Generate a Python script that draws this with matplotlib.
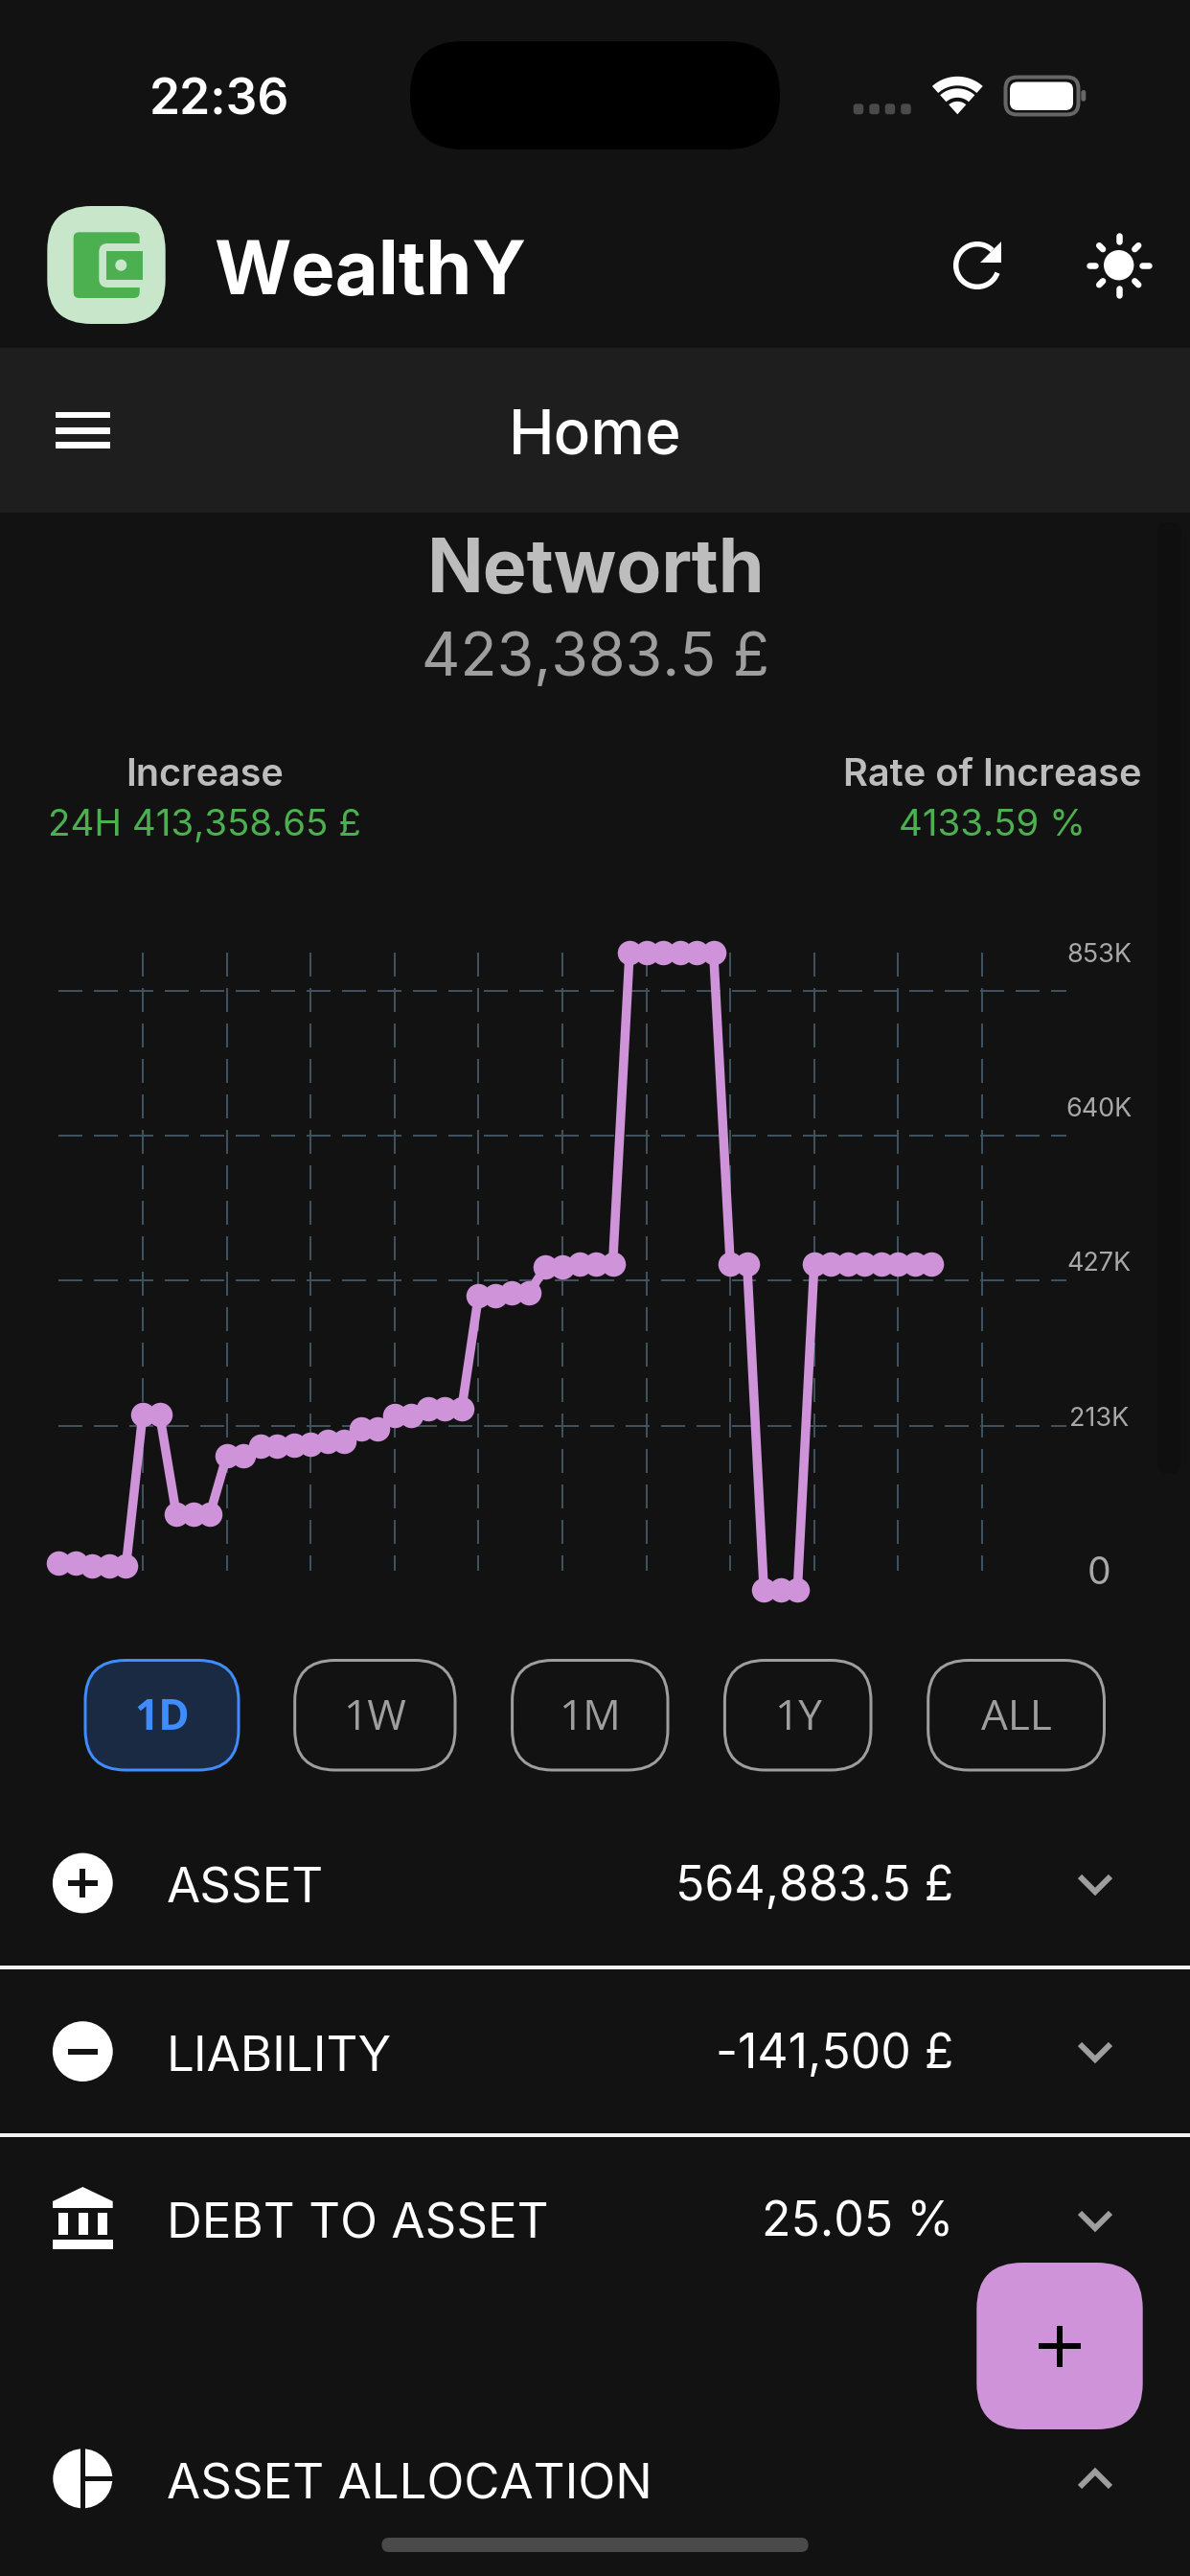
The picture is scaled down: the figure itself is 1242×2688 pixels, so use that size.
import numpy as np
import matplotlib
matplotlib.use("Agg")
import matplotlib.pyplot as plt
from matplotlib.patches import FancyBboxPatch, Circle, Polygon, Rectangle

# ---------- data ----------
net_worth_k = [10.0, 10.0, 6.2, 6.2, 6.2, 216, 216, 78, 78, 78,
               158, 158, 171.4, 171.4, 172.6, 173.8, 178.7, 178.7, 195.7, 195.7,
               213.9, 213.9, 223.6, 223.6, 223.6, 379, 379, 382.8, 382.8, 419.2,
               419.2, 423.4, 423.4, 423.4, 853.4, 853.4, 853.4, 853.4, 853.4, 853.4,
               423.4, 423.4, -27.2, -27.2, -27.2, 423.4, 423.4, 423.4, 423.4, 423.4,
               423.4, 423.4, 423.4]
y_ticks = [853.4, 640, 426.7, 213.3, 0]
y_tick_labels = ["853K", "640K", "427K", "213K", "0"]
h_grid = [200, 400, 600, 800]
v_grid = [5, 10, 15, 20, 25, 30, 35, 40, 45, 50, 55]
range_labels = ["1D", "1W", "1M", "1Y", "ALL"]
row_labels = ["ASSET", "LIABILITY", "DEBT TO ASSET", "ASSET ALLOCATION"]
row_values = ["564,883.5 £", "-141,500 £", "25.05 %", ""]

# ---------- style ----------
plt.rcParams["font.family"] = ["Inter", "DejaVu Sans"]
plt.rcParams["lines.scale_dashes"] = False
BG, BAND = "#121212", "#1e1e1e"
PURPLE, GREEN, GRID = "#ce93d8", "#4caf50", "#3f515c"
PX = 0.72  # points per pixel at dpi 100

fig = plt.figure(figsize=(12.42, 26.88), dpi=100, facecolor=BG)
ui = fig.add_axes([0, 0, 1, 1])
ui.set_xlim(0, 1242)
ui.set_ylim(2688, 0)
ui.axis("off")


def rrect(x0, y0, x1, y1, r, fc, ec="none", lw=0.0, z=1):
    ui.add_patch(FancyBboxPatch((x0, y0), x1 - x0, y1 - y0,
                                boxstyle=f"round,pad=0,rounding_size={r}",
                                fc=fc, ec=ec, lw=lw * PX, zorder=z))


def rect(x0, y0, x1, y1, fc, z=1):
    ui.add_patch(Rectangle((x0, y0), x1 - x0, y1 - y0, fc=fc, ec="none", zorder=z))


def label(x, y, s, px, color, weight="normal", ha="left", family=None):
    kw = {"family": family} if family else {}
    ui.text(x, y, s, fontsize=px * PX, color=color, fontweight=weight,
            ha=ha, va="baseline", zorder=5, **kw)


def arc(cx, cy, r, a0, a1, n=60):
    t = np.radians(np.linspace(a0, a1, n))
    return cx + r * np.cos(t), cy - r * np.sin(t)


def chevron(cx, cy, up=False):
    d = -1 if up else 1
    ui.plot([cx - 16, cx, cx + 16], [cy - 8 * d, cy + 8 * d, cy - 8 * d],
            color="#9e9e9e", lw=6 * PX, solid_capstyle="butt", solid_joinstyle="miter", zorder=4)


# ---------- status bar ----------
rrect(428, 43, 814, 156, 56, "#000000")
label(229, 120, "22:36", 51.5, "white", "semibold", "center")
for x0 in (890.7, 907.3, 923.7, 940.2):
    rrect(x0, 108.3, x0 + 10.5, 119.3, 3, "#4a4a4a")
wifi_c = (999.3, 119.3)
for r0, r1 in ((30, 39.5), (17.5, 27), (0, 13.5)):
    xa, ya = arc(*wifi_c, r1, 48, 132)
    xb, yb = arc(*wifi_c, r0, 132, 48)
    ui.add_patch(Polygon(np.c_[np.r_[xa, xb], np.r_[ya, yb]], fc="white", ec="none", zorder=3))
rrect(1049.5, 80.5, 1125.5, 119.5, 12, "none", "#666666", 4)
rrect(1054, 85.5, 1120, 115, 8, "white")
rrect(1128.3, 94, 1133.3, 105.7, 2.5, "#666666")

# ---------- app bar ----------
rrect(49.3, 215, 172.7, 338, 46, "#c8e6c9")
rrect(76.7, 242.3, 145.7, 311, 6, GREEN)
rrect(103.3, 254, 160, 300, 9, "#c8e6c9")
rect(111.3, 261.7, 149.3, 291.7, GREEN)
ui.add_patch(Circle((126.3, 276.7), 6, fc="#c8e6c9", ec="none", zorder=3))
label(223, 307, "WealthY", 77.5, "white", "bold")

xr, yr = arc(1020, 277, 22.3, 45, 340)
ui.plot(xr, yr, color="white", lw=5.5 * PX, solid_capstyle="butt", zorder=3)
ui.add_patch(Polygon([(1045, 252.3), (1045, 274), (1023.3, 274)], fc="white", ec="none", zorder=3))

sun = (1167.7, 276.7)
ui.add_patch(Circle(sun, 15.7, fc="white", ec="none", zorder=3))
for a in range(0, 360, 45):
    r0, r1 = (24.5, 31) if a % 90 == 0 else (23.5, 29)
    ca, sa = np.cos(np.radians(a)), np.sin(np.radians(a))
    ui.plot([sun[0] + r0 * ca, sun[0] + r1 * ca], [sun[1] + r0 * sa, sun[1] + r1 * sa],
            color="white", lw=6.5 * PX, solid_capstyle="round", zorder=3)

# ---------- title band ----------
rect(0, 362.5, 1242, 534.6, BAND)
for y0 in (429.6, 446.4, 461.2):
    rect(58, y0, 115, y0 + 6.8, "white", 2)
label(621, 474, "Home", 64, "white", "medium", "center")

# ---------- scroll track ----------
rrect(1208, 545, 1232.7, 1537.7, 11, "#0f0f0f", z=0.5)

# ---------- summary ----------
label(622, 617, "Networth", 77, "#bdbdbd", "bold", "center")
label(622, 705, "423,383.5 £", 62.5, "#9e9e9e", "normal", "center")
label(213, 820, "Increase", 39.5, "#bdbdbd", "semibold", "center")
label(213, 872, "24H 413,358.65 £", 38.5, GREEN, "normal", "center")
label(1036, 820, "Rate of Increase", 39.8, "#bdbdbd", "semibold", "center")
label(1036, 872, "4133.59 %", 38.5, GREEN, "normal", "center")

# ---------- chart ----------
Y0, K_PX = 1638.8, 0.756
X0, IDX_PX = 61.4, 17.52
ylo, yhi = -35, 870
xhi = 60
top_px, bot_px = Y0 - yhi * K_PX, Y0 - ylo * K_PX
ax = fig.add_axes([X0 / 1242, 1 - bot_px / 2688, xhi * IDX_PX / 1242, (bot_px - top_px) / 2688])
ax.patch.set_alpha(0)
ax.set_xlim(0, xhi)
ax.set_ylim(ylo, yhi)
for s in ax.spines.values():
    s.set_visible(False)
dash = (0, (25 * PX, 12 * PX))
ax.hlines(h_grid, 0, xhi, colors=GRID, linewidth=2 * PX, linestyles=[dash], zorder=1)
ax.vlines(v_grid, y_ticks[0], 0, colors=GRID, linewidth=2 * PX, linestyles=[dash], zorder=1)
ax.plot(range(len(net_worth_k)), net_worth_k, color=PURPLE, lw=9.5 * PX, marker="o",
        ms=25.5 * PX, mew=0, clip_on=False, zorder=3, solid_joinstyle="miter")
ax.set_xticks([])
ax.yaxis.tick_right()
ax.set_yticks(y_ticks)
ax.set_yticklabels(y_tick_labels, fontsize=27 * PX, color="#a8a8a8", ha="center")
ax.tick_params(axis="y", length=0, pad=(1147 - (X0 + xhi * IDX_PX)) * PX)
ax.get_yticklabels()[-1].set_fontsize(39 * PX)

# ---------- range buttons ----------
btn_x = [(89, 249), (307.7, 475), (534.6, 697), (756.4, 909), (968.7, 1152.5)]
for i, ((x0, x1), s) in enumerate(zip(btn_x, range_labels)):
    on = i == 0
    rrect(x0, 1732.5, x1, 1847, 42, "#1a2a42" if on else "none",
          "#3f8cff" if on else "#9e9e9e", 3)
    label((x0 + x1) / 2, 1805, s, 44, "#3f8cff" if on else "#9e9e9e",
          "bold" if on else "normal", "center", "Open Sans")

# ---------- rows ----------
row_y = [1966, 2141, 2316, 2587]
for y, s, v in zip(row_y, row_labels, row_values):
    label(174, y + 20, s, 51, "white", "normal")
    if v:
        label(995, y + 17, v, 50, "white", "normal", "right")
chevron(1143, 1966)
chevron(1143, 2141)
chevron(1143, 2317)
chevron(1143, 2587, up=True)
rect(0, 2050.8, 1242, 2055, "#f2f2f2")
rect(0, 2225.7, 1242, 2230, "#f2f2f2")

# row icons
ICX = 86.3
ui.add_patch(Circle((ICX, 1965), 31.4, fc="white", ec="none", zorder=3))
rect(70.7, 1962, 102.3, 1968, BG, 4)
rect(83.3, 1949.6, 89.3, 1980.4, BG, 4)
ui.add_patch(Circle((ICX, 2140.6), 31.4, fc="white", ec="none", zorder=3))
rect(70.7, 2137.6, 102.3, 2143.6, BG, 4)
ui.add_patch(Polygon([(ICX, 2282), (117.7, 2297), (117.7, 2304), (55, 2304), (55, 2297)],
                     fc="white", ec="none", zorder=3))
for x0 in (61, 81.5, 101.5):
    rect(x0, 2308.6, x0 + 10.3, 2331.6, "white", 3)
rect(55, 2337, 117.7, 2346.7, "white", 3)
ui.add_patch(Circle((ICX, 2586.3), 31, fc="white", ec="none", zorder=3))
rect(83.6, 2550, 89.2, 2620, BG, 4)
rect(89, 2584, 122, 2588.7, BG, 4)

# ---------- FAB and home indicator ----------
rrect(1019.3, 2361, 1192.7, 2535, 48, PURPLE, z=6)
ui.plot([1084.3, 1127.7], [2448, 2448], color="black", lw=6 * PX, solid_capstyle="butt", zorder=7)
ui.plot([1106, 1106], [2426.7, 2469.7], color="black", lw=6 * PX, solid_capstyle="butt", zorder=7)
rrect(398.4, 2648, 843.6, 2663, 7.5, "#4a4a4a")

fig.savefig("out.png", dpi=100, facecolor=BG)
